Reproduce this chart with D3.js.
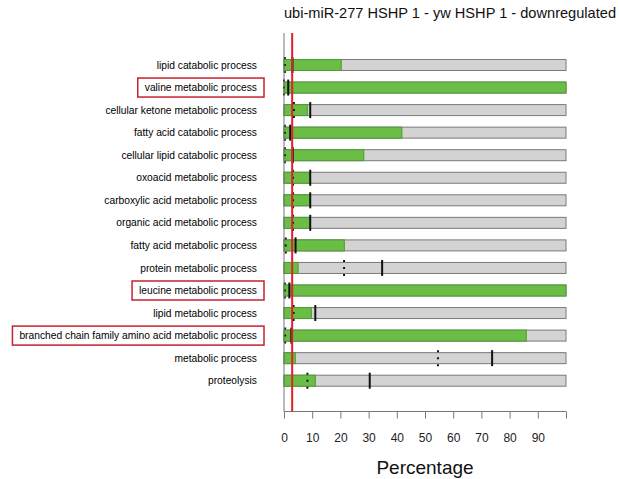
<!DOCTYPE html>
<html>
<head>
<meta charset="utf-8">
<script src="https://cdn.jsdelivr.net/npm/d3@7"></script>
<style>
  body { margin: 0; background: #fff; }
  text { font-family: "Liberation Sans", Arial, sans-serif; }
</style>
</head>
<body>
<svg id="chart"></svg>
<script>
const categories = [
    'lipid catabolic process',
    'valine metabolic process',
    'cellular ketone metabolic process',
    'fatty acid catabolic process',
    'cellular lipid catabolic process',
    'oxoacid metabolic process',
    'carboxylic acid metabolic process',
    'organic acid metabolic process',
    'fatty acid metabolic process',
    'protein metabolic process',
    'leucine metabolic process',
    'lipid metabolic process',
    'branched chain family amino acid metabolic process',
    'metabolic process',
    'proteolysis'
];
// green part of each bar (percentage)
const green_values = [20.3, 100, 8.3, 41.8, 28.3, 9.3, 9.3, 9.3, 21.4, 5.0, 100, 9.7, 85.9, 4.0, 11.1];
// solid black marker
const solid_marks = [3.0, 1.5, 9.3, 2.2, 3.1, 9.3, 9.3, 9.3, 4.1, 34.8, 1.9, 11.1, 2.6, 73.8, 30.4];
// dotted marker
const dotted_marks = [0.3, 0, 3.5, 0.3, 0.3, 3.2, 3.2, 3.2, 0.6, 21.3, 0.3, 3.4, 0.4, 54.6, 8.3];
const highlighted = ['valine metabolic process', 'leucine metabolic process', 'branched chain family amino acid metabolic process'];
const threshold = 2.9;
const tick_values = [0, 10, 20, 30, 40, 50, 60, 70, 80, 90, 100];
const tick_labels = ['0', '10', '20', '30', '40', '50', '60', '70', '80', '90', ''];
const title = 'ubi-miR-277 HSHP 1 - yw HSHP 1 - downregulated';

const width = 619, height = 479;
const svg = d3.select('#chart').attr('width', width).attr('height', height);

const x = d3.scaleLinear().domain([0, 100]).range([284, 566]);
const y = d3.scalePoint().domain(categories).range([65, 380.7]);
const bar_h = 11;
const axis_top = 33, axis_y = 411.5;

svg.append('text')
    .attr('x', 450).attr('y', 18)
    .attr('text-anchor', 'middle')
    .style('font-size', '14.6px')
    .attr('fill', '#111')
    .text(title);

// bars
const rows = categories.map((c, i) => ({name: c, g: green_values[i], s: solid_marks[i], d: dotted_marks[i]}));
const row = svg.append('g').selectAll('g').data(rows).join('g');

row.append('rect')
    .attr('x', x(0)).attr('y', d => y(d.name) - bar_h/2)
    .attr('width', x(100) - x(0)).attr('height', bar_h)
    .attr('fill', '#d3d3d3').attr('stroke', '#7a7a7a').attr('stroke-width', 1);

row.append('rect')
    .attr('x', x(0)).attr('y', d => y(d.name) - bar_h/2)
    .attr('width', d => x(d.g) - x(0)).attr('height', bar_h)
    .attr('fill', '#6abd45').attr('stroke', '#4f9a35').attr('stroke-width', 1);

row.append('line')
    .attr('x1', d => x(d.d)).attr('x2', d => x(d.d))
    .attr('y1', d => y(d.name) - 8).attr('y2', d => y(d.name) + 8)
    .attr('stroke', '#111').attr('stroke-width', 2)
    .attr('stroke-dasharray', '2,5');

row.append('line')
    .attr('x1', d => x(d.s)).attr('x2', d => x(d.s))
    .attr('y1', d => y(d.name) - 8).attr('y2', d => y(d.name) + 8)
    .attr('stroke', '#111').attr('stroke-width', 2);

// category labels
const labels = svg.append('g').selectAll('text').data(categories).join('text')
    .attr('x', 257).attr('y', d => y(d)).attr('dy', '0.35em')
    .attr('text-anchor', 'end')
    .style('font-size', '10.25px')
    .attr('fill', '#000')
    .text(d => d);

labels.filter(d => highlighted.includes(d)).each(function(d) {
    const bb = this.getBBox();
    svg.append('rect')
        .attr('x', bb.x - 7).attr('y', y(d) - 9.5)
        .attr('width', bb.width + 14).attr('height', 19)
        .attr('fill', 'none').attr('stroke', '#c8202f').attr('stroke-width', 1.5);
});

// axes
svg.append('line')
    .attr('x1', x(0)).attr('x2', x(0)).attr('y1', axis_top).attr('y2', axis_y)
    .attr('stroke', '#777').attr('stroke-width', 1);

const xAxis = d3.axisBottom(x).tickValues(tick_values)
    .tickFormat((d, i) => tick_labels[i]).tickSize(7).tickPadding(15);
const gx = svg.append('g').attr('transform', `translate(0,${axis_y})`).call(xAxis);
gx.select('.domain').attr('stroke', '#777').attr('d', `M${x(0)},0H${x(100)}`);
gx.selectAll('.tick line').attr('stroke', '#777');
gx.selectAll('.tick text').style('font-size', '12px').attr('fill', '#222')
    .style('font-family', '"Liberation Sans", Arial, sans-serif');

svg.append('text')
    .attr('x', 425).attr('y', 474)
    .attr('text-anchor', 'middle')
    .style('font-size', '19px')
    .attr('fill', '#111')
    .text('Percentage');

// threshold line
svg.append('line')
    .attr('x1', x(threshold)).attr('x2', x(threshold))
    .attr('y1', axis_top).attr('y2', axis_y)
    .attr('stroke', '#e0202a').attr('stroke-width', 2);
</script>
</body>
</html>
